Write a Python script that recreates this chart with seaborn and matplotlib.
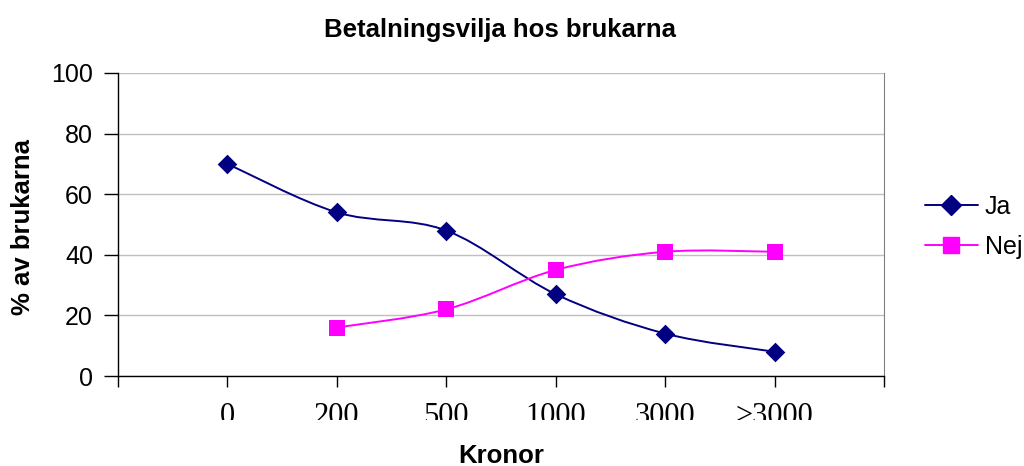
import numpy as np
import pandas as pd
import seaborn as sns
import matplotlib.pyplot as plt
from matplotlib.path import Path
from matplotlib.patches import PathPatch
from matplotlib.lines import Line2D
from matplotlib.transforms import Bbox, TransformedBbox

# Data
kronor = ['0', '200', '500', '1000', '3000', '>3000']
ja = [70, 54, 48, 27, 14, 8]
nej = [np.nan, 16, 22, 35, 41, 41]

NAVY = '#000080'
MAGENTA = '#FF00FF'

sns.set_style('white')
plt.rcParams['font.family'] = ['Liberation Sans', 'DejaVu Sans']
plt.rcParams['text.color'] = 'black'
plt.rcParams['xtick.color'] = 'black'
plt.rcParams['ytick.color'] = 'black'

df = pd.DataFrame({'pos': np.arange(1, len(kronor) + 1), 'Ja': ja, 'Nej': nej})

fig = plt.figure(figsize=(10.24, 4.66), dpi=100)
ax = fig.add_axes([118 / 1024, 1 - 376 / 466, (884 - 118) / 1024, (376 - 73) / 466])


### Excel style smoothed line (Catmull-Rom as cubic bezier)
def smooth_path(x, y):
    pts = np.column_stack([x, y])
    verts = [pts[0]]
    codes = [Path.MOVETO]
    n = len(pts)
    for i in range(n - 1):
        p0 = pts[max(i - 1, 0)]
        p1 = pts[i]
        p2 = pts[i + 1]
        p3 = pts[min(i + 2, n - 1)]
        c1 = p1 + (p2 - p0) / 6
        c2 = p2 - (p3 - p1) / 6
        verts += [c1, c2, p2]
        codes += [Path.CURVE4] * 3
    return Path(verts, codes)


for col, color, marker, ms in [('Ja', NAVY, 'D', 10), ('Nej', MAGENTA, 's', 11)]:
    sub = df.dropna(subset=[col])
    ax.add_patch(PathPatch(smooth_path(sub['pos'].values, sub[col].values),
                           facecolor='none', edgecolor=color, lw=1.4, zorder=3))
    sns.scatterplot(data=sub, x='pos', y=col, ax=ax, marker=marker, color=color,
                    s=ms ** 2, edgecolor=color, linewidth=0, zorder=4, legend=False)

ax.set_xlim(0, len(kronor) + 1)
ax.set_ylim(0, 100)
ax.set_yticks(range(0, 101, 20))
ax.yaxis.grid(True, color='#c0c0c0', lw=1)
ax.set_axisbelow(True)

ax.set_xticks(range(0, len(kronor) + 2))
ax.set_xticklabels([''] + kronor + [''], family='Liberation Serif', fontsize=22)
ax.tick_params(axis='x', bottom=True, direction='out', length=8, width=1, pad=11)
ax.tick_params(axis='y', left=True, direction='out', length=10, width=1, labelsize=18, pad=8)
for s in ['left', 'bottom']:
    ax.spines[s].set_color('black')
    ax.spines[s].set_linewidth(1)
ax.spines['right'].set_color('#808080')
ax.spines['top'].set_visible(False)

# Excel clips the category labels at the bottom
clip = TransformedBbox(Bbox([[0, 1 - 420 / 466], [1, 1]]), fig.transFigure)
for lab in ax.get_xticklabels():
    lab.set_clip_on(True)
    lab.set_clip_box(clip)

ax.set_xlabel('')
ax.set_ylabel('')
fig.text(23 / 1024, 1 - 227 / 466, '% av brukarna', fontsize=18.5, fontweight='bold',
         rotation=90, ha='center', va='center')
fig.text(501 / 1024, 1 - 456 / 466, 'Kronor', fontsize=18.5, fontweight='bold', ha='center', va='center')
fig.text(500 / 1024, 1 - 30 / 466, 'Betalningsvilja hos brukarna', fontsize=18.5,
         fontweight='bold', ha='center', va='center')

handles = [Line2D([], [], color=NAVY, marker='D', markersize=10, lw=1.4),
           Line2D([], [], color=MAGENTA, marker='s', markersize=11, lw=1.4)]
fig.legend(handles, ['Ja', 'Nej'], loc='center left', bbox_to_anchor=(925 / 1024, 1 - 227 / 466),
           frameon=False, fontsize=18, handlelength=2.1, labelspacing=0.65, handletextpad=0.3,
           borderpad=0, borderaxespad=0)

fig.savefig('out.png', dpi=100)
